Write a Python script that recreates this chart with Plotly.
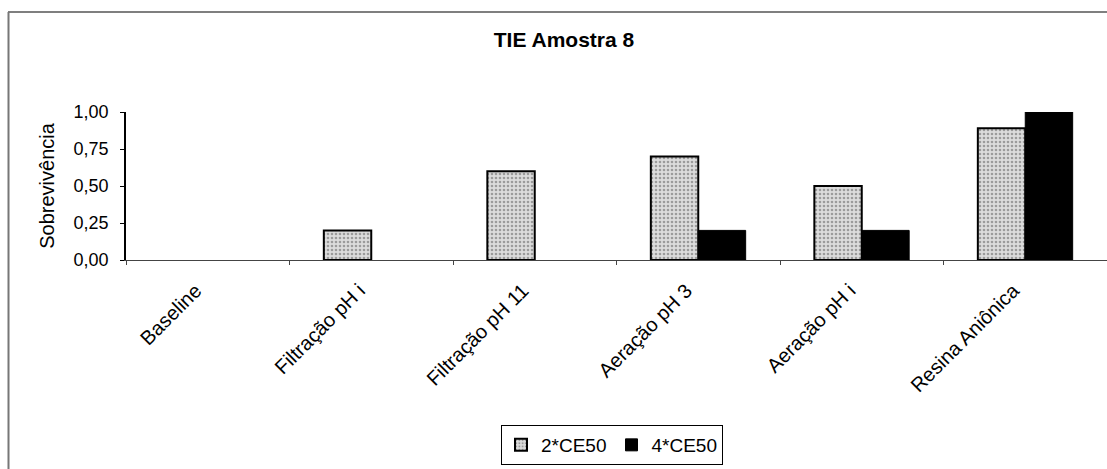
import plotly.graph_objects as go

categories = ["Baseline", "Filtração pH i", "Filtração pH 11", "Aeração pH 3", "Aeração pH i", "Resina Aniônica"]
series_names = ["2*CE50", "4*CE50"]
values_2ce50 = [0.0, 0.20, 0.60, 0.70, 0.50, 0.89]
values_4ce50 = [0.0, 0.0, 0.0, 0.20, 0.20, 1.00]
y_ticks = [0, 0.25, 0.5, 0.75, 1.0]
y_ticktext = ["0,00", "0,25", "0,50", "0,75", "1,00"]

FONT = "Liberation Sans, Arial, sans-serif"

def edge_widths(vals, w):
    return [w if v > 0 else 0 for v in vals]

pattern_2 = dict(shape=".", fgcolor="#5a5a5a", bgcolor="#dcdcdc", size=4, solidity=0.35)

fig = go.Figure()
fig.add_trace(go.Bar(
    name=series_names[0], x=categories, y=values_2ce50, showlegend=False, legendgroup="a",
    marker=dict(color="#d4d4d4", line=dict(color="black", width=edge_widths(values_2ce50, 2)),
                pattern=pattern_2),
))
fig.add_trace(go.Bar(
    name=series_names[1], x=categories, y=values_4ce50, showlegend=False, legendgroup="b",
    marker=dict(color="black", line=dict(color="black", width=edge_widths(values_4ce50, 1))),
))
# legend entries (same styling, with full border)
fig.add_trace(go.Bar(
    name=series_names[0], x=[categories[0]], y=[None], legendgroup="a", showlegend=True,
    marker=dict(color="#d4d4d4", line=dict(color="black", width=2), pattern=pattern_2),
))
fig.add_trace(go.Bar(
    name=series_names[1], x=[categories[0]], y=[None], legendgroup="b", showlegend=True,
    marker=dict(color="black", line=dict(color="black", width=1)),
))

W, H = 1107, 469
L, R, T, B = 126, 0, 112, 209
pw = W - L - R
ph = H - T - B

def px_x(p):
    return (p - L) / pw

def px_y(p):
    return (H - B - p) / ph

fig.update_layout(
    width=W, height=H,
    margin=dict(l=L, r=R, t=T, b=B, autoexpand=False),
    paper_bgcolor="white", plot_bgcolor="white",
    font=dict(family=FONT, size=18, color="black"),
    barmode="overlay", bargap=0.42,
    title=dict(text="<b>TIE Amostra 8</b>", xref="container", x=564 / W, xanchor="center",
               yref="container", y=1 - 40 / H, yanchor="middle", font=dict(size=21)),
    showlegend=True,
    legend=dict(orientation="h", x=px_x(612), xanchor="center", y=px_y(445), yanchor="middle",
                bordercolor="black", borderwidth=1, bgcolor="white",
                font=dict(size=19), itemwidth=30, tracegroupgap=0),
    xaxis=dict(
        type="category", showline=True, linecolor="#444", linewidth=1.2,
        ticks="outside", ticklen=4, tickcolor="#444", tickson="boundaries",
        tickangle=-45, tickfont=dict(size=20), showgrid=False, zeroline=False,
        ticklabelshift=-12, ticklabelstandoff=10,
    ),
    yaxis=dict(
        range=[0, 1.0], tickvals=y_ticks, ticktext=y_ticktext,
        showline=True, linecolor="black", linewidth=1.5,
        ticks="outside", ticklen=4, tickcolor="black",
        showgrid=False, zeroline=False, tickfont=dict(size=18),
        ticklabelstandoff=8,
        title=dict(text="Sobrevivência", font=dict(size=20), standoff=14),
    ),
    shapes=[
        dict(type="line", xref="paper", yref="paper",
             x0=px_x(8), x1=px_x(1107), y0=px_y(12), y1=px_y(12),
             line=dict(color="#555", width=1.5)),
        dict(type="line", xref="paper", yref="paper",
             x0=px_x(8.5), x1=px_x(8.5), y0=px_y(12), y1=px_y(469),
             line=dict(color="#777", width=2)),
    ],
)
# position the two series side by side within each category
fig.data[0].update(offsetgroup="a", width=0.29, offset=-0.29)
fig.data[1].update(offsetgroup="b", width=0.29, offset=0.0)
for tr in fig.data:
    tr.cliponaxis = False

fig.write_html("out.html")
